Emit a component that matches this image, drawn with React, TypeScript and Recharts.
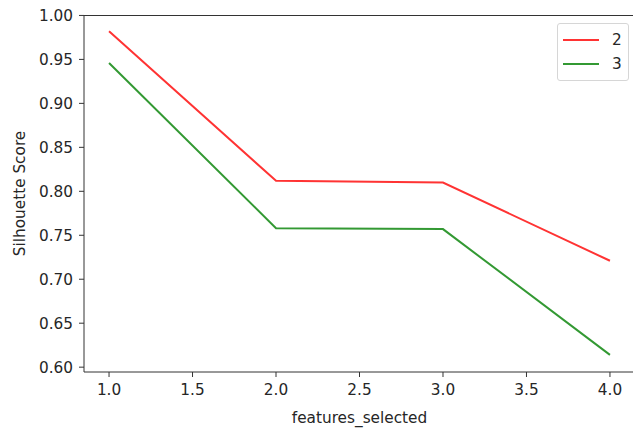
import React from "react";
import { LineChart, Line, XAxis, YAxis, Legend, Label } from "recharts";

// silhouette scores per number of features selected
const features = [1, 2, 3, 4];
const score2 = [0.982, 0.812, 0.81, 0.721];
const score3 = [0.946, 0.758, 0.757, 0.614];

const xTicks = [1, 1.5, 2, 2.5, 3, 3.5, 4];
const yTicks = [0.6, 0.65, 0.7, 0.75, 0.8, 0.85, 0.9, 0.95, 1.0];

const FONT = "'DejaVu Sans', sans-serif";
const FS = 15.3;
const INK = "#262626";
const RED = "#ff3333";
const GRN = "#339933";

const data = features.map((f, i) => ({ f, s2: score2[i], s3: score3[i] }));

const seriesLegend = [
  { name: "2", color: RED },
  { name: "3", color: GRN },
];

function LegendBox() {
  return (
    <div
      style={{
        border: "1px solid #d6d6d6",
        borderRadius: 3,
        background: "#fff",
        padding: "4px 6px 4px 5px",
        fontFamily: FONT,
        fontSize: FS,
        color: INK,
        lineHeight: "24px",
      }}
    >
      {seriesLegend.map((s) => (
        <div key={s.name} style={{ display: "flex", alignItems: "center" }}>
          <span style={{ display: "inline-block", width: 36, height: 2, background: s.color, marginRight: 13 }} />
          <span>{s.name}</span>
        </div>
      ))}
    </div>
  );
}

export default function App() {
  return (
    <div style={{ position: "fixed", left: 0, top: 0, width: 633, height: 430, overflow: "hidden", background: "#fff" }}>
      <LineChart width={640} height={430} data={data} margin={{ top: 15, right: 5, bottom: 0, left: 0 }}>
        <XAxis
          dataKey="f"
          type="number"
          domain={[0.85, 4.15]}
          ticks={xTicks}
          tickFormatter={(v: number) => v.toFixed(1)}
          height={58}
          stroke="#333"
          tickSize={5}
          tickMargin={7}
          tick={{ fill: INK, fontSize: FS, fontFamily: FONT }}
          allowDataOverflow
        >
          <Label
            content={({ viewBox }: any) => (
              <text
                x={viewBox.x + viewBox.width / 2}
                y={viewBox.y + 51}
                textAnchor="middle"
                fill={INK}
                fontSize={FS}
                fontFamily={FONT}
              >
                features_selected
              </text>
            )}
          />
        </XAxis>
        <YAxis
          type="number"
          domain={[0.5945, 1.0005]}
          ticks={yTicks}
          tickFormatter={(v: number) => v.toFixed(2)}
          width={84}
          stroke="#333"
          tickSize={5}
          tickMargin={6}
          tick={{ fill: INK, fontSize: FS, fontFamily: FONT }}
          allowDataOverflow
        >
          <Label
            content={({ viewBox }: any) => {
              const cx = 25;
              const cy = viewBox.y + viewBox.height / 2;
              return (
                <text
                  x={cx}
                  y={cy}
                  transform={`rotate(-90, ${cx}, ${cy})`}
                  textAnchor="middle"
                  fill={INK}
                  fontSize={FS}
                  fontFamily={FONT}
                >
                  Silhouette Score
                </text>
              );
            }}
          />
        </YAxis>
        <Line dataKey="s2" name="2" stroke={RED} strokeWidth={2} dot={false} isAnimationActive={false} />
        <Line dataKey="s3" name="3" stroke={GRN} strokeWidth={2} dot={false} isAnimationActive={false} />
        <Legend
          layout="horizontal"
          verticalAlign="middle"
          align="center"
          content={<LegendBox />}
          wrapperStyle={{ position: "absolute", top: 23, left: 557, width: "auto", height: "auto" }}
        />
      </LineChart>
      {/* top spine */}
      <div style={{ position: "absolute", left: 84, top: 15, width: 560, height: 1, background: "#333" }} />
    </div>
  );
}
